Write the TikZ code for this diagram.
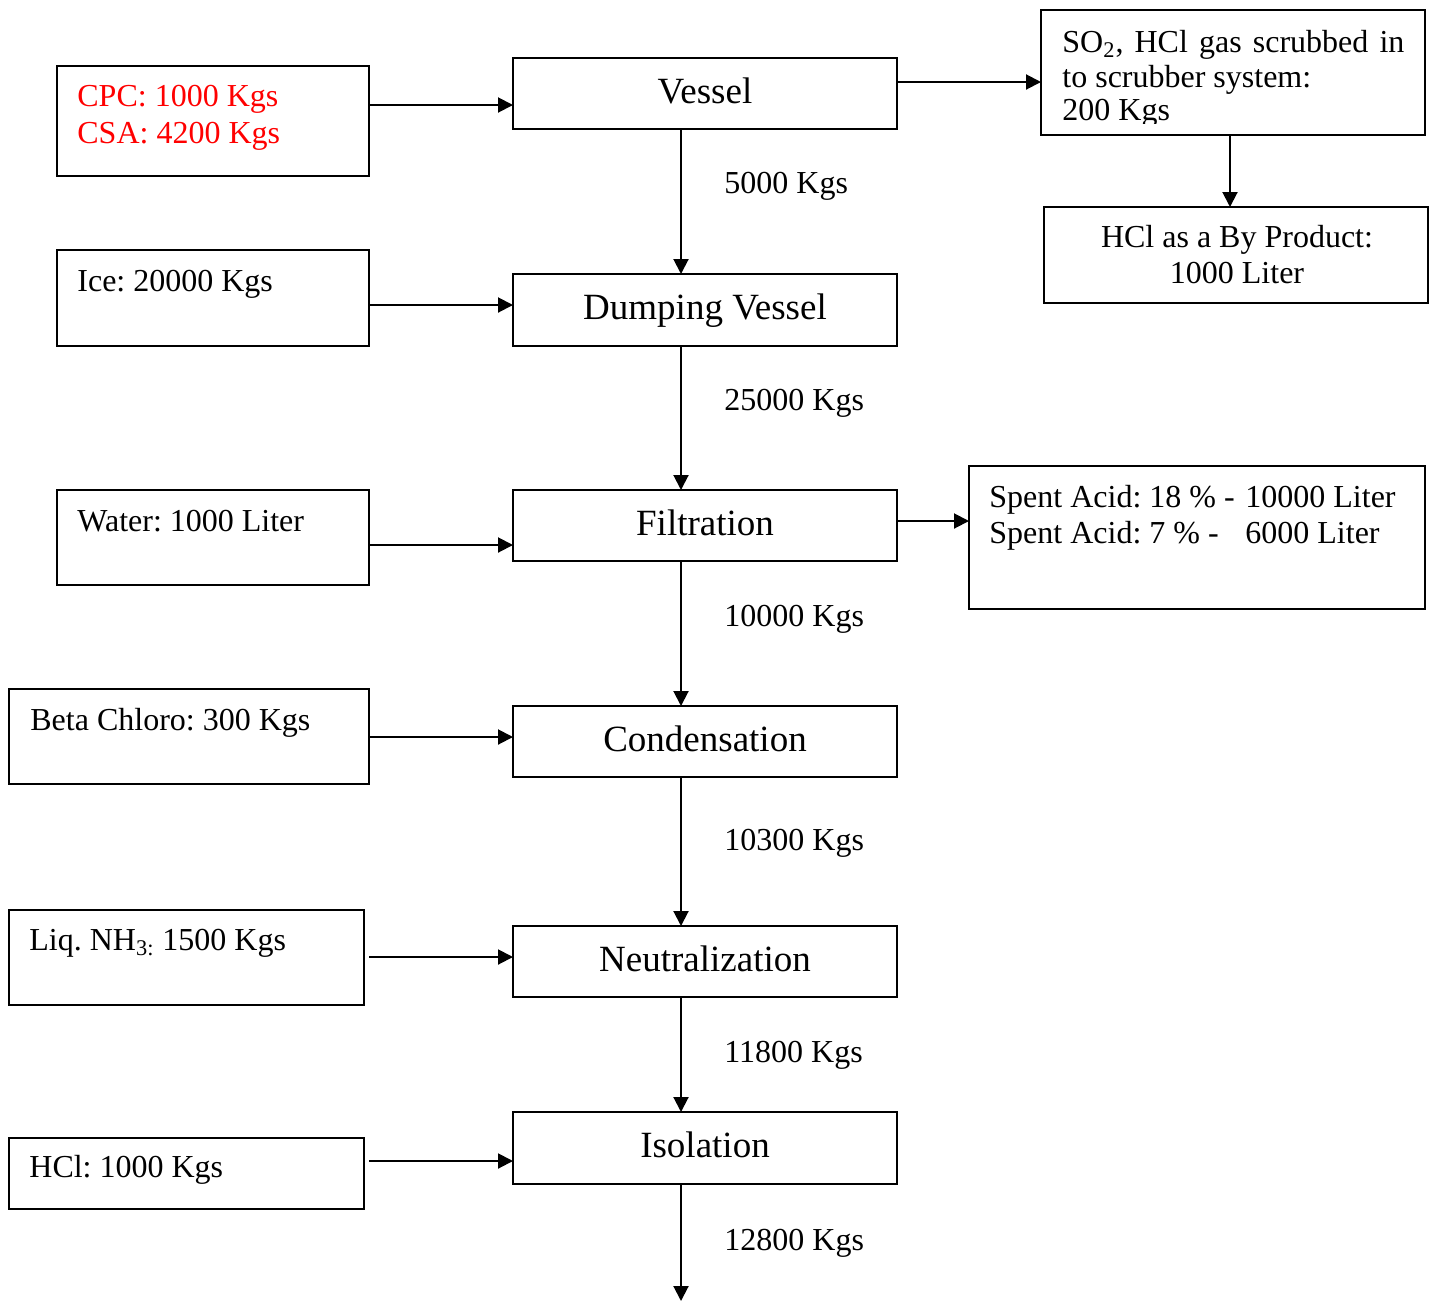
\documentclass[tikz,border=0pt]{standalone}
\usepackage{fontspec}
\setmainfont{Liberation Serif}
\usetikzlibrary{arrows.meta}
\frenchspacing
\begin{document}
\begin{tikzpicture}[x=0.5pt,y=-0.5pt,
  box/.style={draw, line width=1pt, inner sep=0pt, outer sep=0pt},
  stage/.style={box, minimum width=192pt, minimum height=35.5pt,
    font=\fontsize{18.5}{22}\selectfont, text height=13pt, text depth=3.5pt},
  txt/.style={inner sep=0pt, anchor=base west, font=\fontsize{16}{18.5}\selectfont},
  ctxt/.style={txt, anchor=base},
  arr/.style={line width=1pt, -{Triangle[length=7.5pt,width=7.5pt]}},
]
\useasboundingbox (0,0) rectangle (1430,1302);

% main process stages
\node[stage] (vessel) at (705,93.5) {Vessel};
\node[stage, minimum height=36pt] (dump) at (705,310) {Dumping Vessel};
\node[stage] (filt) at (705,525.5) {Filtration};
\node[stage] (cond) at (705,741.5) {Condensation};
\node[stage] (neut) at (705,961.5) {Neutralization};
\node[stage, minimum height=36pt] (iso) at (705,1148) {Isolation};

% raw material inputs
\node[box, minimum width=156pt, minimum height=55pt] (cpc) at (213,121) {};
\node[txt, red] (cpc-a) at (77,106) {CPC: 1000 Kgs};
\node[txt, red] (cpc-b) at (77,143) {CSA: 4200 Kgs};

\node[box, minimum width=156pt, minimum height=48pt] (ice) at (213,298) {};
\node[txt] (ice-t) at (77,291) {Ice: 20000 Kgs};

\node[box, minimum width=156pt, minimum height=47.5pt] (water) at (213,537.5) {};
\node[txt] (water-t) at (77,531) {Water: 1000 Liter};

\node[box, minimum width=180pt, minimum height=47.5pt] (beta) at (189,736.5) {};
\node[txt] (beta-t) at (30,730) {Beta Chloro: 300 Kgs};

\node[box, minimum width=177.5pt, minimum height=47.5pt] (nh3) at (186.5,957.5) {};
\node[txt] (nh3-t) at (29,950) {Liq. NH\textsubscript{3:} 1500 Kgs};

\node[box, minimum width=177.5pt, minimum height=35.5pt] (hclin) at (186.5,1173.5) {};
\node[txt] (hclin-t) at (29,1177) {HCl: 1000 Kgs};

% off-gas and by-products
\node[box, minimum width=192pt, minimum height=62.5pt] (scrub) at (1233,72.5) {};
\begin{scope}
  \clip (1041,10) rectangle (1425,123);
  \node[txt] (scrub-a) at (1062,52) {\makebox[171pt][s]{SO\textsubscript{2}, HCl gas scrubbed in}};
  \node[txt] (scrub-b) at (1062,87) {to scrubber system:};
  \node[txt] (scrub-c) at (1062,120) {200 Kgs};
\end{scope}

\node[box, minimum width=192pt, minimum height=48pt] (hclbp) at (1236,255) {};
\node[ctxt] (hclbp-a) at (1237,247) {HCl as a By Product:};
\node[ctxt] (hclbp-b) at (1237,283) {1000 Liter};

\node[box, minimum width=228pt, minimum height=71.5pt] (spent) at (1197,537.5) {};
\node[txt] (spent-a) at (989,507) {\makebox[128pt][l]{Spent Acid: 18 \% -}10000 Liter};
\node[txt] (spent-b) at (989,543) {\makebox[128pt][l]{Spent Acid: 7 \% -}6000 Liter};

% mass flow labels
\node[txt] (q1) at (724,193) {5000 Kgs};
\node[txt] (q2) at (724,410) {25000 Kgs};
\node[txt] (q3) at (724,626) {10000 Kgs};
\node[txt] (q4) at (724,850) {10300 Kgs};
\node[txt] (q5) at (724,1062) {11800 Kgs};
\node[txt] (q6) at (724,1250) {12800 Kgs};

% main flow line
\coordinate (spine) at (681,0);
\coordinate (product) at (681,1301);
\draw[arr] (vessel.south -| spine) -- (dump.north -| spine);
\draw[arr] (dump.south -| spine) -- (filt.north -| spine);
\draw[arr] (filt.south -| spine) -- (cond.north -| spine);
\draw[arr] (cond.south -| spine) -- (neut.north -| spine);
\draw[arr] (neut.south -| spine) -- (iso.north -| spine);
\draw[arr] (iso.south -| spine) -- (product);

% inputs
\draw[arr] (cpc.east |- 0,105) -- (vessel.west |- 0,105);
\draw[arr] (ice.east |- 0,305) -- (dump.west |- 0,305);
\draw[arr] (water.east |- 0,545) -- (filt.west |- 0,545);
\draw[arr] (beta.east |- 0,737) -- (cond.west |- 0,737);
\draw[arr, shorten <=2.5pt] (nh3.east |- 0,957) -- (neut.west |- 0,957);
\draw[arr, shorten <=2.5pt] (hclin.east |- 0,1161) -- (iso.west |- 0,1161);

% outputs
\draw[arr] (vessel.east |- 0,82) -- (scrub.west |- 0,82);
\draw[arr] (scrub.south -| 1230,0) -- (hclbp.north -| 1230,0);
\draw[arr] (filt.east |- 0,521) -- (spent.west |- 0,521);
\end{tikzpicture}
\end{document}
